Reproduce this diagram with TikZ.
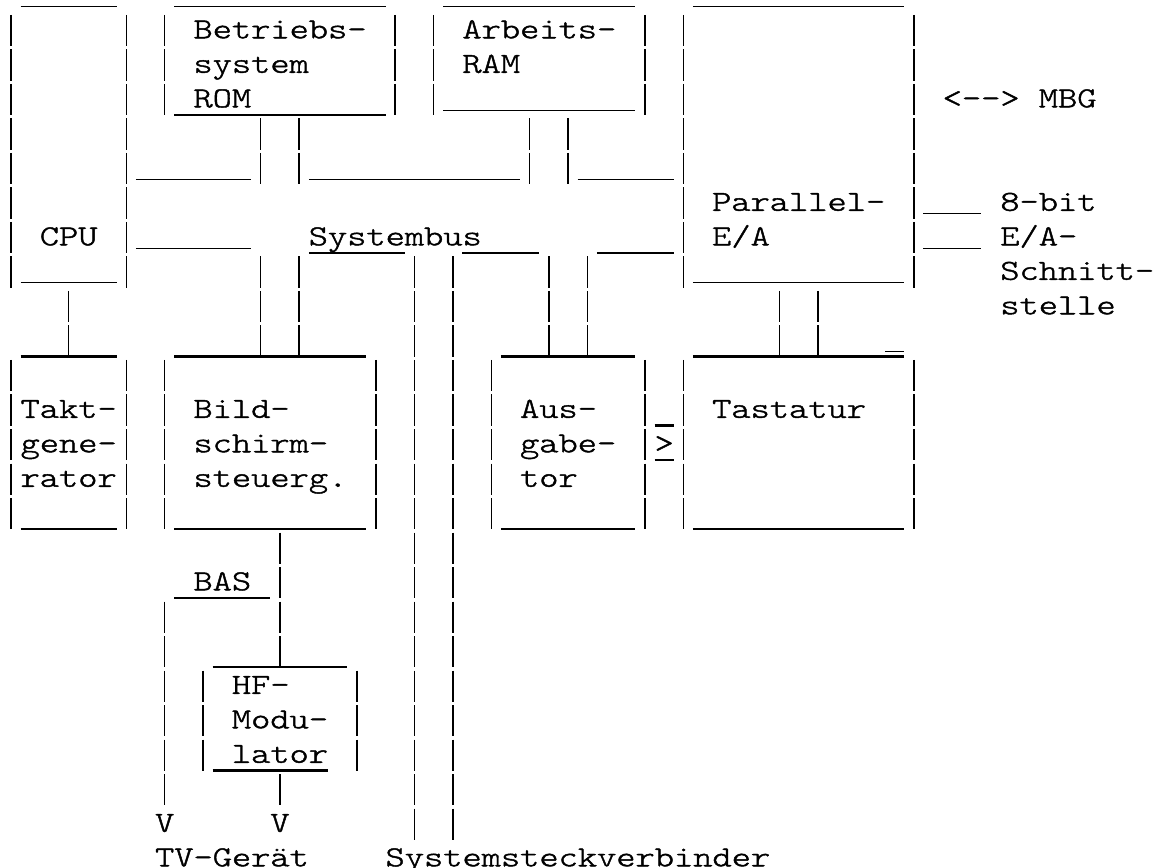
\documentclass[tikz,border=0pt]{standalone}
\usepackage{fontspec}
\newfontfamily\asciifont[FakeStretch=1.263, FakeBold=1.5]{lmmonolt10-regular.otf}

\begin{document}
\begin{tikzpicture}[
  x=19.21pt, y=-34.5pt,
  txt/.style={font=\asciifont\fontsize{29pt}{34.5pt}\selectfont,
    anchor=base west, inner sep=0pt, outer sep=0pt},
  bar/.style={line width=1.5pt, dash pattern=on 31.3pt off 3.2pt,
    shorten <=-23.3pt, shorten >=-8pt},
  usc/.style={line width=1.3pt, yshift=-3pt},
  uln/.style={line width=2.1pt, yshift=-7.7pt},
]
\useasboundingbox (-0.5726,-0.110) rectangle (59.656,25.049);

% Top edges of the upper boxes
\draw[usc] (0.5,0) -- (5.5,0);
\draw[usc] (8.5,0) -- (19.5,0);
\draw[usc] (22.5,0) -- (32.5,0);
\draw[usc] (35.5,0) -- (46.5,0);

% CPU
\draw[bar] (0,1) -- (0,8);
\draw[bar] (6,1) -- (6,8);
\draw[usc] (0.5,8) -- (5.5,8);
\node[txt] (cpu) at (1.5,7) {CPU};

% Betriebssystem ROM
\draw[bar] (8,1) -- (8,3);
\draw[bar] (20,1) -- (20,3);
\draw[uln] (8.5,3) -- (19.5,3);
\node[txt] (rom1) at (9.5,1) {Betriebs-};
\node[txt] (rom2) at (9.5,2) {system};
\node[txt] (rom3) at (9.5,3) {ROM};

% Arbeits-RAM
\draw[bar] (22,1) -- (22,3);
\draw[bar] (33,1) -- (33,3);
\draw[usc] (22.5,3) -- (32.5,3);
\node[txt] (ram1) at (23.5,1) {Arbeits-};
\node[txt] (ram2) at (23.5,2) {RAM};

% Parallel-E/A
\draw[bar] (35,1) -- (35,8);
\draw[bar] (47,1) -- (47,8);
\draw[usc] (35.5,8) -- (46.5,8);
\node[txt] (pio1) at (36.5,6) {Parallel-};
\node[txt] (pio2) at (36.5,7) {E/A};
\node[txt] (mbg) at (48.5,3) {<--> MBG};

% 8-bit port
\draw[usc] (47.5,6) -- (50.5,6);
\draw[usc] (47.5,7) -- (50.5,7);
\node[txt] (port1) at (51.5,6) {8-bit};
\node[txt] (port2) at (51.5,7) {E/A-};
\node[txt] (port3) at (51.5,8) {Schnitt-};
\node[txt] (port4) at (51.5,9) {stelle};

% Systembus
\draw[bar] (13,4) -- (13,5);
\draw[bar] (15,4) -- (15,5);
\draw[bar] (27,4) -- (27,5);
\draw[bar] (29,4) -- (29,5);
\draw[usc] (6.5,5) -- (12.5,5);
\draw[usc] (15.5,5) -- (26.5,5);
\draw[usc] (29.5,5) -- (34.5,5);
\draw[usc] (6.5,7) -- (12.5,7);
\draw[uln] (15.5,7) -- (20.5,7);
\draw[uln] (23.5,7) -- (27.5,7);
\draw[uln] (30.5,7) -- (34.5,7);
\node[txt] (bus) at (15.5,7) {Systembus};
\draw[bar] (13,8) -- (13,10);
\draw[bar] (15,8) -- (15,10);
\draw[bar] (28,8) -- (28,10);
\draw[bar] (30,8) -- (30,10);
\draw[bar] (21,8) -- (21,24);
\draw[bar] (23,8) -- (23,24);
\draw[bar] (3,9) -- (3,10);
\draw[bar] (40,9) -- (40,10);
\draw[bar] (42,9) -- (42,10);

% Taktgenerator
\draw[uln] (0.5,10) -- (5.5,10);
\draw[uln] (0.5,15) -- (5.5,15);
\draw[bar] (0,11) -- (0,15);
\draw[bar] (6,11) -- (6,15);
\node[txt] (clk1) at (0.5,12) {Takt-};
\node[txt] (clk2) at (0.5,13) {gene-};
\node[txt] (clk3) at (0.5,14) {rator};

% Bildschirmsteuerung
\draw[uln] (8.5,10) -- (18.5,10);
\draw[uln] (8.5,15) -- (18.5,15);
\draw[bar] (8,11) -- (8,15);
\draw[bar] (19,11) -- (19,15);
\node[txt] (vid1) at (9.5,12) {Bild-};
\node[txt] (vid2) at (9.5,13) {schirm-};
\node[txt] (vid3) at (9.5,14) {steuerg.};

% Ausgabetor
\draw[uln] (25.5,10) -- (32.5,10);
\draw[uln] (25.5,15) -- (32.5,15);
\draw[bar] (25,11) -- (25,15);
\draw[bar] (33,11) -- (33,15);
\node[txt] (out1) at (26.5,12) {Aus-};
\node[txt] (out2) at (26.5,13) {gabe-};
\node[txt] (out3) at (26.5,14) {tor};
\draw[uln] (33.5,12) -- (34.5,12);
\draw[uln] (33.5,13) -- (34.5,13);
\node[txt] (gt) at (33.5,13) {>};

% Tastatur
\draw[uln] (35.5,10) -- (46.5,10);
\draw[usc] (45.5,10) -- (46.5,10);
\draw[uln] (35.5,15) -- (46.5,15);
\draw[bar] (35,11) -- (35,15);
\draw[bar] (47,11) -- (47,15);
\node[txt] (kbd) at (36.5,12) {Tastatur};

% BAS and HF-Modulator
\draw[bar] (14,16) -- (14,19);
\draw[uln] (8.5,17) -- (13.5,17);
\node[txt] (bas) at (9.5,17) {BAS};
\draw[bar] (8,18) -- (8,23);
\draw[uln] (10.5,19) -- (17.5,19);
\draw[bar] (10,20) -- (10,22);
\draw[bar] (18,20) -- (18,22);
\draw[uln] (10.5,22) -- (16.5,22);
\node[txt] (hf1) at (11.5,20) {HF-};
\node[txt] (hf2) at (11.5,21) {Modu-};
\node[txt] (hf3) at (11.5,22) {lator};
\draw[bar] (14,23) -- (14,23);

% Outputs
\node[txt] (va) at (7.5,24) {V};
\node[txt] (vb) at (13.5,24) {V};
\node[txt] (tv) at (7.5,25) {TV-Gerät};
\node[txt] (ssv) at (19.5,25) {Systemsteckverbinder};

\end{tikzpicture}
\end{document}
